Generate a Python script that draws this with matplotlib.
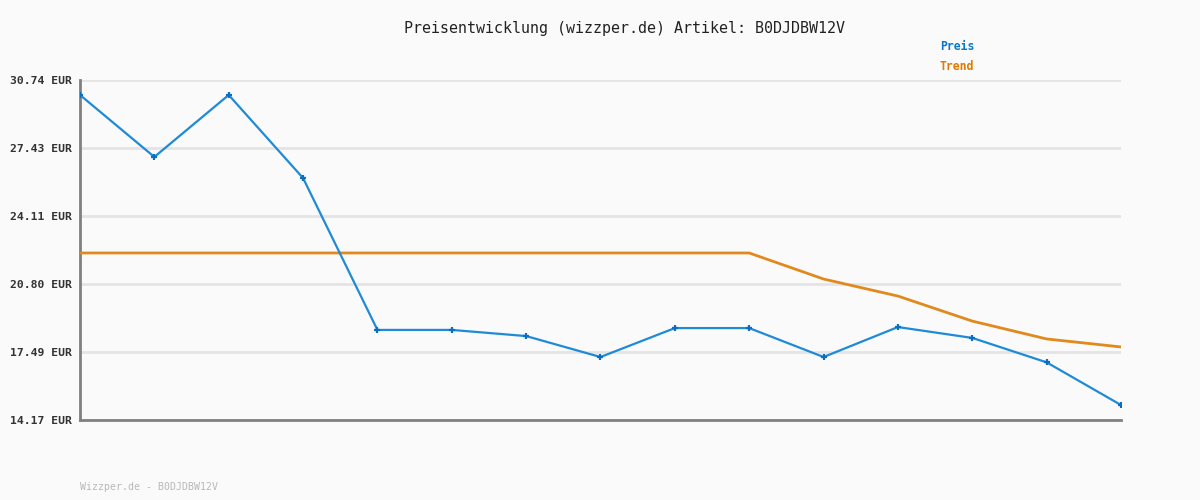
import matplotlib
matplotlib.use('Agg')
import matplotlib.pyplot as plt

# Daten
preis = [30.01, 26.99, 30.01, 25.96, 18.56, 18.56, 18.26, 17.24, 18.65, 18.65,
         17.24, 18.70, 18.17, 16.98, 14.90]
trend = [22.31, 22.31, 22.31, 22.31, 22.31, 22.31, 22.31, 22.31, 22.31, 22.31,
         21.04, 20.21, 18.99, 18.12, 17.73]
y_ticks = [14.17, 17.49, 20.80, 24.11, 27.43, 30.74]
titel = "Preisentwicklung (wizzper.de) Artikel: B0DJDBW12V"
fusszeile = "Wizzper.de - B0DJDBW12V"

bg = '#fafafa'
font = 'DejaVu Sans Mono'

fig = plt.figure(figsize=(12, 5), dpi=100, facecolor=bg)
ax = fig.add_axes([80 / 1200, 80 / 500, 1041 / 1200, 340 / 500], facecolor=bg)

x = list(range(len(preis)))
ax.plot(x, trend, color='#e08a1e', linewidth=2, zorder=3)
ax.plot(x, preis, color='#1f8ad6', linewidth=1.6, marker='+', markersize=5,
        markeredgewidth=1.6, markeredgecolor='#0a6fc0', zorder=4)

ax.set_xlim(0, len(preis) - 1)
ax.set_ylim(y_ticks[0], y_ticks[-1])
ax.set_yticks(y_ticks)
ax.set_yticklabels([f"{v:.2f} EUR" for v in y_ticks], fontfamily=font,
                   fontweight='bold', fontsize=8.2, color='#333333')
ax.set_xticks([])
ax.tick_params(axis='y', length=0, pad=6)
ax.grid(axis='y', color='#e4e4e4', linewidth=2, zorder=0)

for s in ['top', 'right']:
    ax.spines[s].set_visible(False)
for s in ['left', 'bottom']:
    ax.spines[s].set_color('#808080')
    ax.spines[s].set_linewidth(2)

fig.text(0.52, 1 - 28 / 500, titel, ha='center', va='center', fontfamily=font,
         fontsize=10.8, color='#222222')
fig.text(940 / 1200, 1 - 47 / 500, "Preis", ha='left', va='center', fontfamily=font,
         fontsize=8.3, fontweight='bold', color='#0a78c8')
fig.text(940 / 1200, 1 - 67 / 500, "Trend", ha='left', va='center', fontfamily=font,
         fontsize=8.3, fontweight='bold', color='#dd7a00')
fig.text(80 / 1200, 1 - 487 / 500, fusszeile, ha='left', va='center', fontfamily=font,
         fontsize=7.1, color='#b8b8b8')

fig.savefig('out.png', dpi=100, facecolor=bg)
